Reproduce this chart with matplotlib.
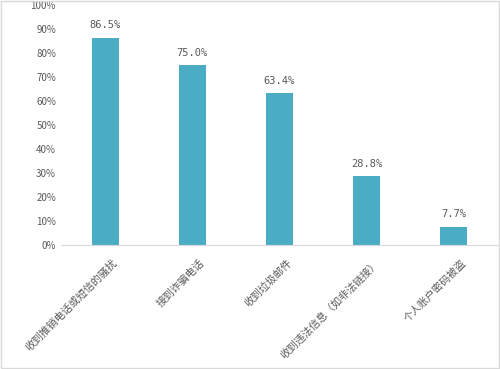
import matplotlib.pyplot as plt
import matplotlib.transforms as mtransforms
from matplotlib.patches import Rectangle

plt.rcParams['font.family'] = ['Noto Sans CJK SC', 'DejaVu Sans']

categories = ["收到推销电话或短信的骚扰", "接到诈骗电话", "收到垃圾邮件",
              "收到违法信息（如非法链接）", "个人账户密码被盗"]
values = [86.5, 75.0, 63.4, 28.8, 7.7]
yticks = [0, 10, 20, 30, 40, 50, 60, 70, 80, 90, 100]

bar_color = '#4BACC6'
text_color = '#595959'

fig = plt.figure(figsize=(5.0, 3.69), dpi=100)
ax = fig.add_axes([0.123, 0.336, 0.872, 0.65])

x = list(range(len(categories)))
ax.bar(x, values, width=0.31, color=bar_color)

for xi, v in zip(x, values):
    ax.text(xi, v + 3, f"{v:.1f}%", ha='center', va='bottom', fontsize=7.5,
            color=text_color, family='DejaVu Sans Mono')

ax.set_xlim(-0.5, len(categories) - 0.5)
ax.set_ylim(0, 100)
ax.set_yticks(yticks)
ax.set_yticklabels([f"{t}%" for t in yticks], fontsize=7, color=text_color)
ax.set_xticks(x)
ax.set_xticklabels(categories, rotation=45, ha='right', rotation_mode='anchor',
                   fontsize=7.5, color=text_color)
ax.tick_params(axis='both', length=0, pad=4)
ax.tick_params(axis='x', pad=9)

# nudge the rotated labels a little to the right, as in the reference
shift = mtransforms.ScaledTranslation(7 / 100, 0, fig.dpi_scale_trans)
for lab in ax.get_xticklabels():
    lab.set_transform(lab.get_transform() + shift)

for side in ['top', 'right', 'left']:
    ax.spines[side].set_visible(False)
ax.spines['bottom'].set_color('#D9D9D9')

# light frame around the whole picture
fig.patches.append(Rectangle((0.002, 0.002), 0.996, 0.996, transform=fig.transFigure,
                             fill=False, edgecolor='#D9D9D9', linewidth=1))

fig.savefig('out.png', dpi=100)
